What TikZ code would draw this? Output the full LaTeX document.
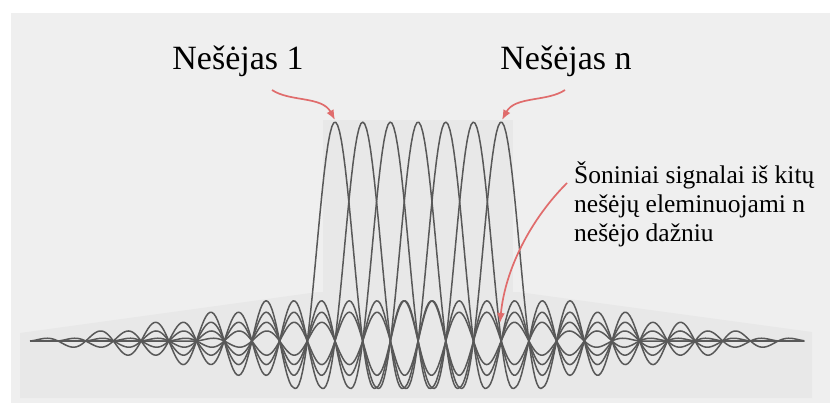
\documentclass[tikz,border=0pt]{standalone}
\usepackage{fontspec}
\setmainfont{Liberation Serif}
\usetikzlibrary{arrows.meta}

\definecolor{bgpage}{HTML}{EFEFEF}
\definecolor{bgband}{HTML}{E8E8E8}
\definecolor{curvegray}{HTML}{585858}
\definecolor{arrowred}{HTML}{E06C6C}

\begin{document}
\begin{tikzpicture}[
  x=1pt, y=1pt,
  declare function={
    rr(\u)=max(abs(\u),0.0001);
    tt(\u)=max(0,(11.3-rr(\u))/9.8);
    sc(\u)=(rr(\u)<=1.5)*sin(180*rr(\u))/(pi*rr(\u))
          +(rr(\u)>1.5)*sin(180*rr(\u))*0.212*tt(\u)*(0.65+0.35*tt(\u));
  },
  lbl/.style={font=\fontsize{34}{40}\selectfont, inner sep=0pt},
  note/.style={font=\fontsize{25.5}{29}\selectfont, align=left, inner sep=0pt},
  carrier/.style={draw=curvegray, line width=1.5pt, line join=round},
  arr/.style={-{Latex[length=10pt,width=8pt]}, draw=arrowred, line width=1.7pt}
]
  \useasboundingbox (0,0) rectangle (830,405);
  % background
  \fill[bgpage] (11,2) rectangle (830,392);
  \fill[bgband] (20,7) -- (20,72) -- (318,113) -- (518,113) -- (812,73) -- (812,7) -- cycle;
  \fill[bgband] (323,110) rectangle (513,285);

  % subcarriers
  \foreach \k in {0,...,6} {
    \draw[carrier] plot[domain=30:804, samples=401]
      (\x, {64+219*sc((\x-335-27.7*\k)/27.7)});
  }

  % labels
  \node[lbl, anchor=base] (nes1) at (238,335) {Nešėjas 1};
  \node[lbl, anchor=base] (nesn) at (566,335) {Nešėjas n};
  \node[note, anchor=north west] (side) at (574,244)
    {Šoniniai signalai iš kitų\\nešėjų eleminuojami n\\nešėjo dažniu};

  \coordinate (s1) at (272,315);
  \coordinate (sn) at (565,315);
  \coordinate (ss) at (567,222);
  \coordinate (top1) at (335,285);
  \coordinate (topn) at (502,285);
  \coordinate (lobe) at (500,82);

  \draw[arr] (s1) .. controls (290,303) and (322,309) .. (top1);
  \draw[arr] (sn) .. controls (547,303) and (515,309) .. (topn);
  \draw[arr] (ss) .. controls (530,185) and (505,135) .. (lobe);
\end{tikzpicture}
\end{document}
